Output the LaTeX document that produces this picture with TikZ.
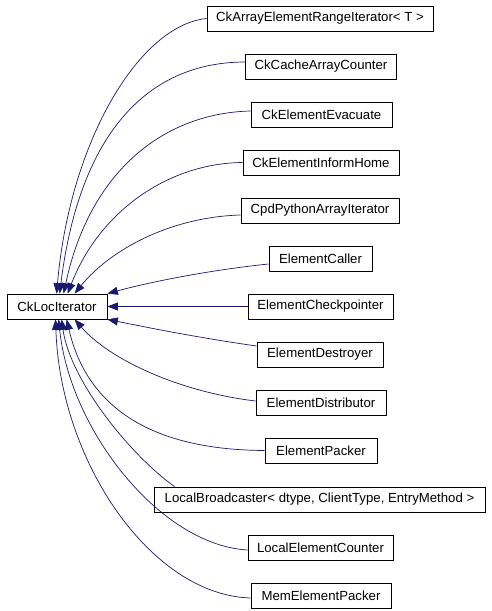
\documentclass[tikz,border=0pt]{standalone}
\usepackage{fontspec}
\setmainfont{Liberation Sans}
\usetikzlibrary{arrows.meta}
\definecolor{edgeblue}{HTML}{191970}
\begin{document}
\begin{tikzpicture}[x=1pt,y=-1pt,
  cls/.style={draw=black, fill=white, line width=0.8pt, minimum height=25pt, inner sep=0pt, font=\fontsize{13.2}{15}\selectfont},
  inh/.style={draw=edgeblue, line width=0.7pt, -{Triangle[length=10.5pt,width=8pt,fill=edgeblue]}}]
\useasboundingbox (0,0) rectangle (491,611);
\node[cls, minimum width=100pt] (base) at (57,306.5) {CkLocIterator};
\node[cls, minimum width=226pt] (c1) at (320,18.5) {CkArrayElementRangeIterator< T >};
\node[cls, minimum width=151pt] (c2) at (321,66.5) {CkCacheArrayCounter};
\node[cls, minimum width=141pt] (c3) at (321.5,114.5) {CkElementEvacuate};
\node[cls, minimum width=156pt] (c4) at (321,162.5) {CkElementInformHome};
\node[cls, minimum width=158pt] (c5) at (320,210.5) {CpdPythonArrayIterator};
\node[cls, minimum width=103pt] (c6) at (320.5,258.5) {ElementCaller};
\node[cls, minimum width=145pt] (c7) at (320.5,306.5) {ElementCheckpointer};
\node[cls, minimum width=126pt] (c8) at (320,354.5) {ElementDestroyer};
\node[cls, minimum width=130pt] (c9) at (321,403) {ElementDistributor};
\node[cls, minimum width=112pt] (c10) at (321,450.5) {ElementPacker};
\node[cls, minimum width=331pt] (c11) at (319.5,499.5) {LocalBroadcaster< dtype, ClientType, EntryMethod >};
\node[cls, minimum width=145pt] (c12) at (320.5,547.5) {LocalElementCounter};
\node[cls, minimum width=140pt] (c13) at (321,595.5) {MemElementPacker};
\draw[inh] (c1.west) .. controls (140,25) and (70,140) .. ([xshift=50pt]base.north west);
\draw[inh] ([yshift=4.5pt]c2.west) .. controls (150,62) and (80,130) .. ([xshift=53pt]base.north west);
\draw[inh] ([yshift=3.5pt]c3.west) .. controls (165,113) and (90,170) .. ([xshift=57pt]base.north west);
\draw[inh] (c4.west) .. controls (170,163) and (100,210) .. ([xshift=61pt]base.north west);
\draw[inh] ([yshift=-4.5pt]c5.west) .. controls (170,217) and (110,250) .. ([xshift=68pt]base.north west);
\draw[inh] ([yshift=-5.5pt]c6.west) .. controls (210,270) and (150,282) .. (base.north east);
\draw[inh] (c7.west) -- (base.east);
\draw[inh] ([yshift=8.5pt]c8.west) .. controls (200,338) and (150,328) .. (base.south east);
\draw[inh] ([yshift=2pt]c9.west) .. controls (180,392) and (110,360) .. ([xshift=68pt]base.south west);
\draw[inh] (c10.west) .. controls (170,450) and (90,420) .. ([xshift=60pt]base.south west);
\draw[inh] ([xshift=21pt]c11.north west) .. controls (130,455) and (70,380) .. ([xshift=55pt]base.south west);
\draw[inh] ([yshift=-2.5pt]c12.west) .. controls (160,545) and (70,430) .. ([xshift=52pt]base.south west);
\draw[inh] ([yshift=-2.5pt]c13.west) .. controls (150,595) and (60,460) .. ([xshift=49pt]base.south west);
\end{tikzpicture}
\end{document}
